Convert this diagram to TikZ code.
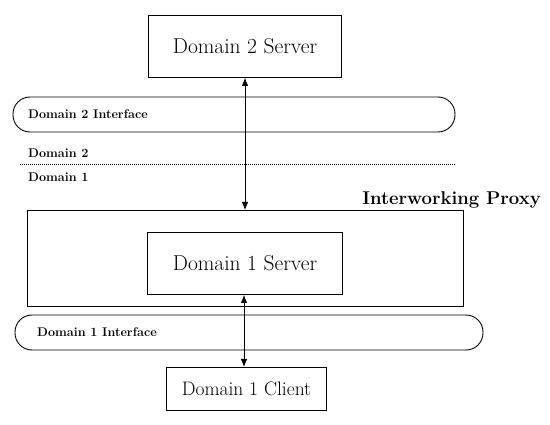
\documentclass[tikz,border=0pt]{standalone}
\usetikzlibrary{arrows.meta}
\tikzset{
  box/.style={draw, line width=0.9pt, inner sep=0pt, anchor=north west},
  pill/.style={draw, line width=0.9pt, rounded corners=17pt},
  lbl/.style={font=\fontsize{12.6}{14}\selectfont\bfseries, anchor=west, inner sep=0pt},
  bigtxt/.style={font=\fontsize{21.5}{25}\selectfont},
  link/.style={line width=0.8pt, {Latex[length=8pt,width=6.5pt]}-{Latex[length=8pt,width=6.5pt]}}
}
\begin{document}
\begin{tikzpicture}[x=1pt,y=-1pt]
\useasboundingbox (0,0) rectangle (550,425);
% boxes
\node[box, minimum width=193pt, minimum height=62pt, bigtxt] (d2s) at (148,15) {Domain 2 Server};
\draw[pill] (13,97) rectangle (455,132);
\node[lbl] (d2i) at (28,114) {Domain 2 Interface};
\coordinate (dl) at (20,164);
\coordinate (dr) at (455,164);
\draw[dash pattern=on 1pt off 1pt, line width=0.9pt] (dl) -- (dr);
\node[lbl] (d2) at (28,153) {Domain 2};
\node[lbl] (d1) at (28,177) {Domain 1};
\node[font=\fontsize{18.5}{21}\selectfont\bfseries, anchor=base east, inner sep=0pt] (ip) at (541,205) {Interworking Proxy};
\node[box, minimum width=436pt, minimum height=96pt] (proxy) at (27,210) {};
\node[box, minimum width=195pt, minimum height=62pt, bigtxt] (d1s) at (147,232) {Domain 1 Server};
\draw[pill] (15,315) rectangle (483,350);
\node[lbl] (d1i) at (37,332) {Domain 1 Interface};
\node[box, minimum width=160pt, minimum height=43pt, font=\fontsize{19.5}{23}\selectfont] (d1c) at (166,367) {Domain 1 Client};
% connectors
\draw[link] (d2s.south -| 245,0) -- (proxy.north -| 245,0);
\draw[link] (d1s.south -| 244,0) -- (d1c.north -| 244,0);
\end{tikzpicture}
\end{document}
